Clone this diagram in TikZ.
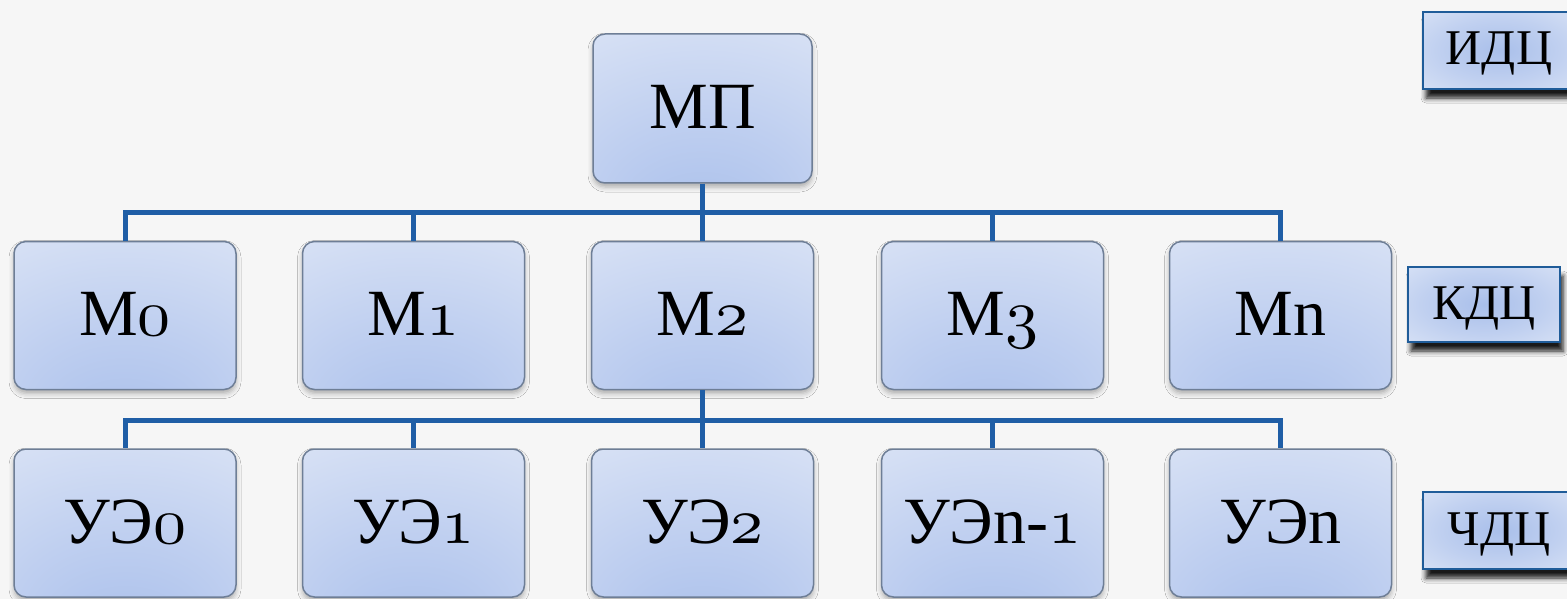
\documentclass[tikz,border=0pt]{standalone}
\usepackage{fontspec}
\setmainfont{Liberation Serif}
\usetikzlibrary{shadows.blur}
\DeclareFontFamily{OML}{myosn}{\skewchar\font127 }
\DeclareFontShape{OML}{myosn}{m}{it}{<->cmmi10}{}
\definecolor{bg}{HTML}{F6F6F6}
\definecolor{boxline}{HTML}{6E7E96}
\definecolor{conn}{HTML}{1F5EA6}
\definecolor{labline}{HTML}{1F5C99}
\definecolor{bA}{HTML}{A6BDEA}
\definecolor{bB}{HTML}{BFCFF0}
\definecolor{bC}{HTML}{DAE3F5}
\definecolor{bD}{HTML}{E8EDF8}
\definecolor{lA}{HTML}{A9BFEA}
\definecolor{lB}{HTML}{C0D0F0}
\definecolor{lC}{HTML}{E8EEF9}
\pgfdeclareradialshading{boxfill}{\pgfpoint{0bp}{-45bp}}{color(0bp)=(bA); color(25bp)=(bB); color(50bp)=(bC); color(70bp)=(bD)}
\pgfdeclareradialshading{labfill}{\pgfpoint{0bp}{0bp}}{color(0bp)=(lA); color(20bp)=(lB); color(50bp)=(lC)}
\newcommand{\osn}[1]{{\usefont{OML}{myosn}{m}{it}#1}}
\tikzset{
  mbox/.style={draw=boxline, line width=1.5pt, rounded corners=12pt, shading=boxfill,
    minimum width=222pt, minimum height=148pt, inner sep=0pt,
    font=\fontsize{66}{70}\selectfont, text height=46pt, text depth=6pt,
    blur shadow={shadow xshift=0pt, shadow yshift=-4pt, shadow blur radius=5pt, shadow opacity=30}},
  lbox/.style={draw=labline, line width=2pt, shading=labfill,
    minimum width=152pt, minimum height=77pt, inner sep=0pt,
    font=\fontsize{50}{54}\selectfont, text height=33pt, text depth=4pt,
    blur shadow={shadow xshift=3pt, shadow yshift=-9pt, shadow blur radius=5pt, shadow opacity=90}},
  wire/.style={draw=conn, line width=5pt}
}
\begin{document}
\begin{tikzpicture}[x=1pt, y=-1pt]
\useasboundingbox (0,0) rectangle (1567,599);
\clip (0,0) rectangle (1567,599);
\fill[bg] (0,0) rectangle (1567,599);

\coordinate (bus1) at (702.5,212);
\coordinate (bus2) at (702.5,420);

\node[mbox, minimum width=219pt, minimum height=149pt] (mp) at (702.5,108.5) {МП};

\node[mbox] (m0) at (125,315.5) {M\osn{0}};
\node[mbox] (m1) at (413.5,315.5) {M\osn{1}};
\node[mbox] (m2) at (702.5,315.5) {M\osn{2}};
\node[mbox] (m3) at (992.5,315.5) {M\osn{3}};
\node[mbox] (mn) at (1280.5,315.5) {Mn};

\node[mbox] (u0) at (125,523) {УЭ\osn{0}};
\node[mbox] (u1) at (413.5,523) {УЭ\osn{1}};
\node[mbox] (u2) at (702.5,523) {УЭ\osn{2}};
\node[mbox] (u3) at (992.5,523) {УЭn-\osn{1}};
\node[mbox] (un) at (1280.5,523) {УЭn};

\draw[wire] (mp.south) -- (bus1);
\foreach \t in {m0,m1,m2,m3,mn} \draw[wire] (bus1) -| (\t.north);
\draw[wire] (m2.south) -- (bus2);
\foreach \t in {u0,u1,u2,u3,un} \draw[wire] (bus2) -| (\t.north);

\node[lbox] (idc) at (1499,50.5) {ИДЦ};
\node[lbox, minimum height=75pt] (kdc) at (1484,304.5) {КДЦ};
\node[lbox] (cdc) at (1499,530.5) {ЧДЦ};
\end{tikzpicture}
\end{document}
